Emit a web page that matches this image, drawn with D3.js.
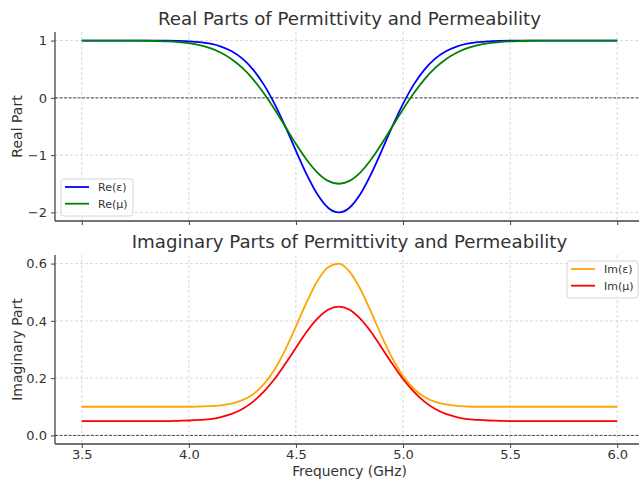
<!DOCTYPE html>
<html><head><meta charset="utf-8">
<script src="https://cdn.jsdelivr.net/npm/d3@7"></script>
<style>body{margin:0;background:#fff} svg{display:block;font-family:"DejaVu Sans",sans-serif}</style>
</head><body><svg id="c" width="639" height="481"></svg>
<script>
const freq = [3.50,3.55,3.60,3.65,3.70,3.75,3.80,3.85,3.90,3.95,4.00,4.05,4.10,4.15,4.20,4.25,4.30,4.35,4.40,4.45,4.50,4.55,4.60,4.65,4.70,4.75,4.80,4.85,4.90,4.95,5.00,5.05,5.10,5.15,5.20,5.25,5.30,5.35,5.40,5.45,5.50,5.55,5.60,5.65,5.70,5.75,5.80,5.85,5.90,5.95,6.00];
const reEps = [1.000,1.000,1.000,1.000,1.000,1.000,1.000,0.999,0.998,0.994,0.987,0.973,0.945,0.896,0.813,0.684,0.493,0.231,-0.104,-0.498,-0.924,-1.336,-1.684,-1.918,-2.000,-1.918,-1.684,-1.336,-0.924,-0.498,-0.104,0.231,0.493,0.684,0.813,0.896,0.945,0.973,0.987,0.994,0.998,0.999,1.000,1.000,1.000,1.000,1.000,1.000,1.000,1.000,1.000];
const reMu = [1.000,1.000,1.000,1.000,0.999,0.998,0.997,0.993,0.987,0.975,0.954,0.921,0.868,0.789,0.675,0.522,0.323,0.080,-0.199,-0.501,-0.804,-1.081,-1.304,-1.450,-1.500,-1.450,-1.304,-1.081,-0.804,-0.501,-0.199,0.080,0.323,0.522,0.675,0.789,0.868,0.921,0.954,0.975,0.987,0.993,0.997,0.998,0.999,1.000,1.000,1.000,1.000,1.000,1.000];
const imEps = [0.100,0.100,0.100,0.100,0.100,0.100,0.100,0.100,0.100,0.100,0.100,0.101,0.102,0.105,0.111,0.123,0.144,0.179,0.230,0.299,0.381,0.465,0.539,0.587,0.600,0.572,0.512,0.432,0.347,0.270,0.207,0.163,0.134,0.117,0.108,0.103,0.101,0.100,0.100,0.100,0.100,0.100,0.100,0.100,0.100,0.100,0.100,0.100,0.100,0.100,0.100];
const imMu = [0.050,0.050,0.050,0.050,0.050,0.050,0.050,0.050,0.050,0.051,0.052,0.054,0.057,0.064,0.075,0.092,0.118,0.153,0.197,0.250,0.306,0.362,0.408,0.439,0.450,0.439,0.408,0.362,0.306,0.250,0.197,0.153,0.118,0.092,0.075,0.064,0.057,0.054,0.052,0.051,0.050,0.050,0.050,0.050,0.050,0.050,0.050,0.050,0.050,0.050,0.050];
const xTicks = [3.5,4.0,4.5,5.0,5.5,6.0];
const reTicks = [-2,-1,0,1];
const imTicks = [0.0,0.2,0.4,0.6];
const topTitle = "Real Parts of Permittivity and Permeability";
const botTitle = "Imaginary Parts of Permittivity and Permeability";
const topSeries = [{name:"Re(ε)", values:reEps, color:"#0000ff"},{name:"Re(μ)", values:reMu, color:"#008000"}];
const botSeries = [{name:"Im(ε)", values:imEps, color:"#ffa500"},{name:"Im(μ)", values:imMu, color:"#ff0000"}];

const svg = d3.select("#c");
const textColor = "#333";
const x = d3.scaleLinear().domain([3.375, 6.125]).range([55, 644]);

function panel(cfg){
  const g = svg.append("g");
  const y = d3.scaleLinear().domain(cfg.ydom).range([cfg.bottom, cfg.top]);
  g.append("g").selectAll("line").data(xTicks).join("line")
    .attr("x1", d=>x(d)).attr("x2", d=>x(d)).attr("y1", cfg.top).attr("y2", cfg.bottom)
    .attr("stroke", "#d0d0d0").attr("stroke-width", 0.8).attr("stroke-dasharray", "3,2");
  g.append("g").selectAll("line").data(cfg.yticks).join("line")
    .attr("x1", 55).attr("x2", 644).attr("y1", d=>y(d)).attr("y2", d=>y(d))
    .attr("stroke", "#d0d0d0").attr("stroke-width", 0.8).attr("stroke-dasharray", "3,2");
  g.append("line").attr("x1", 55).attr("x2", 644).attr("y1", y(0)).attr("y2", y(0))
    .attr("stroke", "#222").attr("stroke-width", 0.8).attr("stroke-dasharray", "3,1.5");
  const line = d3.line().x((d,i)=>x(freq[i])).y(d=>y(d)).curve(d3.curveMonotoneX);
  cfg.series.forEach(s=>{
    g.append("path").attr("d", line(s.values)).attr("fill","none")
      .attr("stroke", s.color).attr("stroke-width", 1.8);
  });
  const xa = d3.axisBottom(x).tickValues(xTicks).tickSize(4).tickPadding(2)
    .tickFormat(cfg.xlabels ? d3.format(".1f") : "");
  const xg = g.append("g").attr("transform", `translate(0,${cfg.bottom})`).call(xa);
  const ya = d3.axisLeft(y).tickValues(cfg.yticks).tickSize(4).tickPadding(4)
    .tickFormat(cfg.yfmt);
  const yg = g.append("g").attr("transform", `translate(55,0)`).call(ya);
  [xg, yg].forEach(a=>{
    a.select(".domain").remove();
    a.selectAll(".tick line").attr("stroke", "#444").attr("stroke-width", 1);
    a.selectAll(".tick text").attr("fill", textColor).attr("font-size", 13)
      .attr("font-family", "DejaVu Sans");
  });
  g.append("line").attr("x1",55).attr("x2",644).attr("y1",cfg.bottom).attr("y2",cfg.bottom)
    .attr("stroke","#444").attr("stroke-width",1.3);
  g.append("line").attr("x1",55).attr("x2",55).attr("y1",cfg.top).attr("y2",cfg.bottom)
    .attr("stroke","#444").attr("stroke-width",1.3);
  g.append("text").attr("x", 349.5).attr("y", cfg.titleY).attr("text-anchor","middle")
    .attr("font-size", 18.2).attr("fill", textColor).text(cfg.title);
  g.append("text").attr("transform", `translate(22,${(cfg.top+cfg.bottom)/2}) rotate(-90)`)
    .attr("text-anchor","middle").attr("font-size",14).attr("fill",textColor).text(cfg.ylabel);
  const L = cfg.legend;
  const lg = g.append("g").attr("transform", `translate(${L.x},${L.y})`);
  lg.append("rect").attr("width", L.w).attr("height", L.h).attr("rx", 3)
    .attr("fill", "#fff").attr("fill-opacity", 0.85).attr("stroke", "#d6d6d6").attr("stroke-width", 1);
  cfg.series.forEach((s,i)=>{
    const yy = 8 + i*16.7;
    lg.append("line").attr("x1", 4).attr("x2", 28).attr("y1", yy).attr("y2", yy)
      .attr("stroke", s.color).attr("stroke-width", 1.8);
    lg.append("text").attr("x", 37).attr("y", yy+4).attr("font-size", 11)
      .attr("fill", textColor).text(s.name);
  });
  return y;
}

panel({top:32, bottom:221, ydom:[-2.15,1.15], yticks:reTicks, series:topSeries, xlabels:false,
  yfmt: d=> d<0 ? "\u2212"+Math.abs(d) : String(d), title: topTitle, titleY: 25, ylabel:"Real Part",
  legend:{x:61, y:179, w:72, h:37}});
panel({top:255, bottom:444, ydom:[-0.03,0.63], yticks:imTicks, series:botSeries, xlabels:true,
  yfmt: d3.format(".1f"), title: botTitle, titleY: 248, ylabel:"Imaginary Part",
  legend:{x:567, y:261, w:71, h:37}});

svg.append("text").attr("x", 349.5).attr("y", 476).attr("text-anchor","middle")
  .attr("font-size",13.8).attr("fill",textColor).text("Frequency (GHz)");
</script>
</body></html>
